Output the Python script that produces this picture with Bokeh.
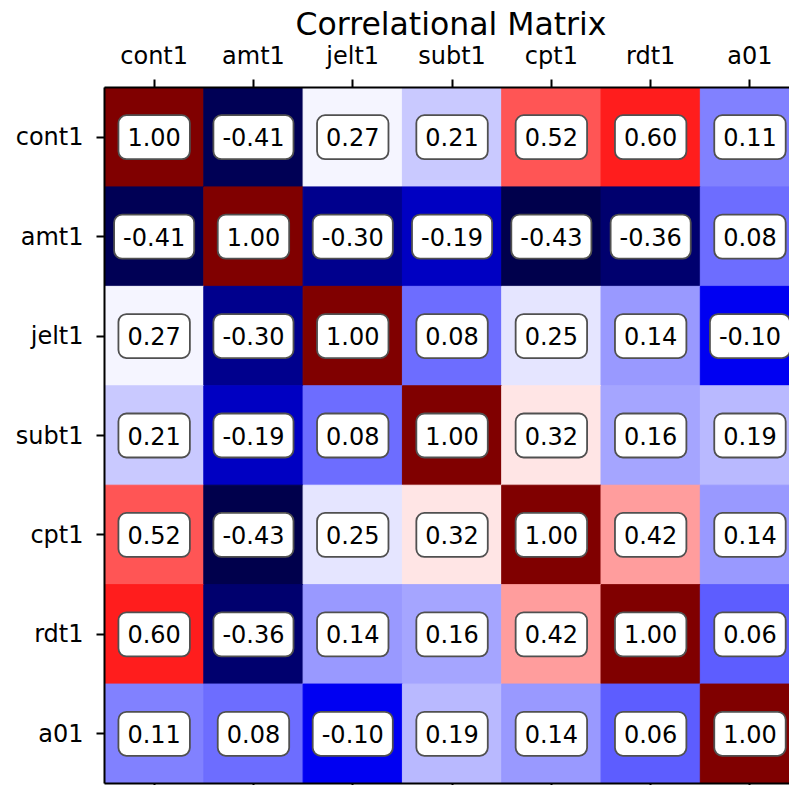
import numpy as np
from bokeh.plotting import figure
from bokeh.models import (Range1d, FixedTicker, LinearAxis, LinearColorMapper,
                          ColumnDataSource)
from bokeh.transform import transform
from bokeh.core.properties import value
from bokeh.embed import file_html
from bokeh.resources import INLINE

# ---------------- data ----------------
title_text = "Correlational Matrix"
labels = ["cont1", "amt1", "jelt1", "subt1", "cpt1", "rdt1", "a01"]
row_cont1 = [1.00, -0.41, 0.27, 0.21, 0.52, 0.60, 0.11]
row_amt1 = [-0.41, 1.00, -0.30, -0.19, -0.43, -0.36, 0.08]
row_jelt1 = [0.27, -0.30, 1.00, 0.08, 0.25, 0.14, -0.10]
row_subt1 = [0.21, -0.19, 0.08, 1.00, 0.32, 0.16, 0.19]
row_cpt1 = [0.52, -0.43, 0.25, 0.32, 1.00, 0.42, 0.14]
row_rdt1 = [0.60, -0.36, 0.14, 0.16, 0.42, 1.00, 0.06]
row_a01 = [0.11, 0.08, -0.10, 0.19, 0.14, 0.06, 1.00]
rows = [row_cont1, row_amt1, row_jelt1, row_subt1, row_cpt1, row_rdt1, row_a01]

# ---------------- seismic palette ----------------
anchors = [(0.0, 0.0, 0.3), (0.0, 0.0, 1.0), (1.0, 1.0, 1.0), (1.0, 0.0, 0.0), (0.5, 0.0, 0.0)]
def seismic(n=256):
    out = []
    for i in range(n):
        t = i / (n - 1) * 4
        k = min(int(t), 3)
        f = t - k
        c = [anchors[k][j] + (anchors[k + 1][j] - anchors[k][j]) * f for j in range(3)]
        out.append("#%02x%02x%02x" % tuple(int(round(v * 255)) for v in c))
    return out

palette = seismic()

xs, ys, vs, ts = [], [], [], []
for r, row in enumerate(rows):
    for c, v in enumerate(row):
        xs.append(c)
        ys.append(r)
        vs.append(v)
        ts.append("%.2f" % v)
src = ColumnDataSource(dict(x=xs, y=ys, v=vs, t=ts))

mapper = LinearColorMapper(palette=palette, low=min(vs), high=max(vs))

FONT = "DejaVu Sans"

p = figure(width=789, height=785, output_backend="svg", toolbar_location=None,
           x_range=Range1d(-0.5, 6.398), y_range=Range1d(6.5, -0.5),
           x_axis_location="above", min_border_left=104, min_border_right=0,
           min_border_top=87, min_border_bottom=0)

p.rect(x="x", y="y", width=1, height=1, source=src,
       fill_color=transform("v", mapper), line_color=transform("v", mapper), line_width=1)

p.text(x="x", y="y", text="t", source=src, text_align="center", text_baseline="middle",
       text_font=value(FONT), text_font_size="24px", text_color="black",
       background_fill_color="white", border_line_color="#505050", border_line_width=1.8,
       padding=dict(left=9, right=9, top=13, bottom=13), border_radius=8)

p.add_layout(LinearAxis(), "below")

ticks = list(range(len(labels)))
overrides = {i: labels[i] for i in ticks}
for ax in p.xaxis + p.yaxis:
    ax.ticker = FixedTicker(ticks=ticks)
    ax.major_label_overrides = overrides
    ax.axis_line_width = 2
    ax.axis_line_color = "black"
    ax.major_tick_line_width = 2
    ax.major_tick_line_color = "black"
    ax.major_tick_out = 8
    ax.major_tick_in = 0
    ax.minor_tick_out = 0
    ax.minor_tick_in = 0
    ax.major_label_text_font = FONT
    ax.major_label_text_font_size = "24px"
    ax.major_label_text_color = "black"
    ax.major_label_standoff = 10

bottom = p.below[0]
bottom.major_label_overrides = {i: "" for i in ticks}
bottom.major_label_text_font_size = "0px"
bottom.major_label_standoff = 0
bottom.major_tick_out = 2

p.yaxis[0].major_label_standoff = 13

p.xgrid.visible = False
p.ygrid.visible = False
p.outline_line_color = None

p.title.text = title_text
p.title.text_font = FONT
p.title.text_font_size = "31.5px"
p.title.text_font_style = "normal"
p.title.text_color = "black"
p.title.align = "left"
p.title.offset = 191
p.title.standoff = -6

open("out.html", "w").write(file_html(p, INLINE))
